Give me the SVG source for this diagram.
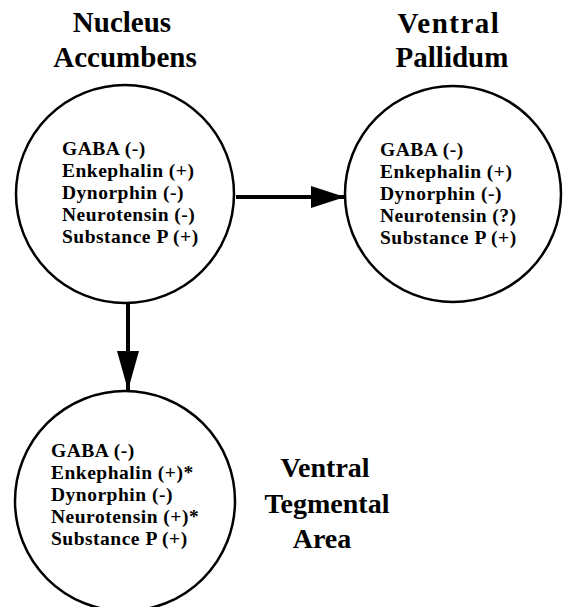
<svg xmlns="http://www.w3.org/2000/svg" width="564" height="607" viewBox="0 0 564 607">
<defs>
<style>
.node{fill:#fff;stroke:#000;stroke-width:2.5}
.title{font-family:"Liberation Serif","Times New Roman",serif;font-weight:bold;font-size:29px;fill:#000;text-anchor:middle}
.vta{font-size:28px}
.item{font-family:"Liberation Serif","Times New Roman",serif;font-weight:bold;font-size:19.5px;letter-spacing:0.5px;fill:#000}
.conn{stroke:#000;stroke-width:4;fill:none}
.head{fill:#000}
</style>
<marker id="ah" markerUnits="userSpaceOnUse" markerWidth="34" markerHeight="22" refX="34" refY="11" orient="auto">
<path class="head" d="M0,0 L34,11 L0,22 Z"/>
</marker>
<marker id="ahv" markerUnits="userSpaceOnUse" markerWidth="39" markerHeight="22" refX="39" refY="11" orient="auto">
<path class="head" d="M0,0 L39,11 L0,22 Z"/>
</marker>
</defs>
<g id="connectors">
<line class="conn" x1="236" y1="197" x2="345" y2="197" marker-end="url(#ah)"/>
<line class="conn" x1="128" y1="303" x2="128" y2="390" marker-end="url(#ahv)"/>
</g>
<g id="nucleus-accumbens">
<text class="title" x="122" y="32">Nucleus</text>
<text class="title" x="125" y="67">Accumbens</text>
<circle class="node" cx="125" cy="194" r="109"/>
<text class="item" x="62" y="155">GABA (-)</text>
<text class="item" x="62" y="177">Enkephalin (+)</text>
<text class="item" x="62" y="199">Dynorphin (-)</text>
<text class="item" x="62" y="221">Neurotensin (-)</text>
<text class="item" x="62" y="243">Substance P (+)</text>
</g>
<g id="ventral-pallidum">
<text class="title" x="449" y="33" letter-spacing="1.5">Ventral</text>
<text class="title" x="452" y="67">Pallidum</text>
<circle class="node" cx="453" cy="194" r="108"/>
<text class="item" x="380" y="156">GABA (-)</text>
<text class="item" x="380" y="178">Enkephalin (+)</text>
<text class="item" x="380" y="200">Dynorphin (-)</text>
<text class="item" x="380" y="222">Neurotensin (?)</text>
<text class="item" x="380" y="244">Substance P (+)</text>
</g>
<g id="ventral-tegmental-area">
<circle class="node" cx="125" cy="501" r="110"/>
<text class="item" x="51" y="457">GABA (-)</text>
<text class="item" x="51" y="479">Enkephalin (+)*</text>
<text class="item" x="51" y="501">Dynorphin (-)</text>
<text class="item" x="51" y="523">Neurotensin (+)*</text>
<text class="item" x="51" y="545">Substance P (+)</text>
<text class="title vta" x="325" y="477">Ventral</text>
<text class="title vta" x="327" y="513">Tegmental</text>
<text class="title vta" x="322" y="548">Area</text>
</g>
</svg>
